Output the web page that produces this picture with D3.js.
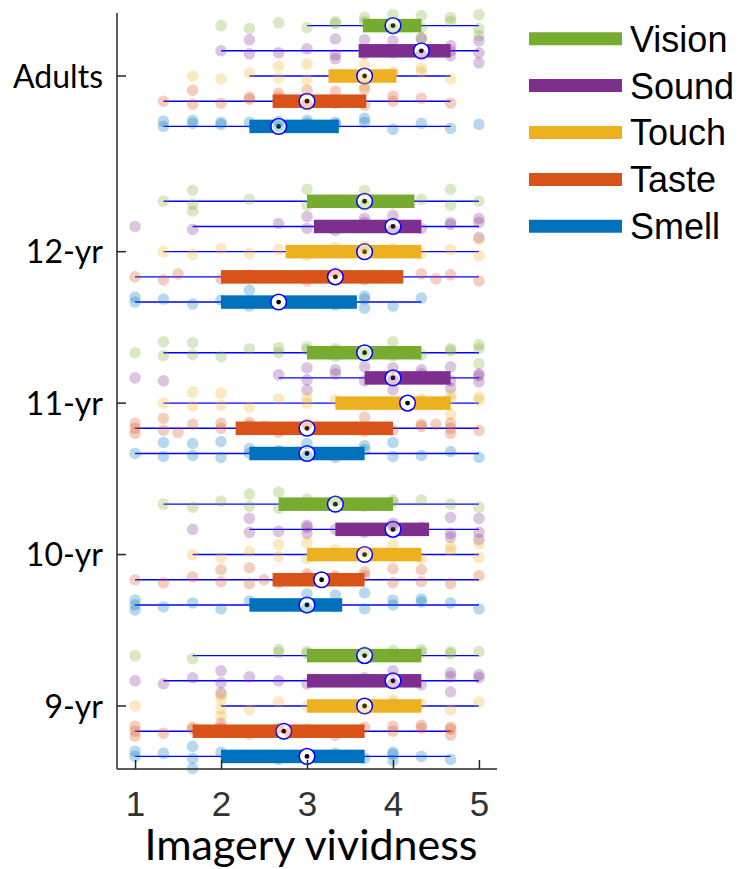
<!DOCTYPE html>
<html>
<head>
<meta charset="utf-8">
<script src="https://cdn.jsdelivr.net/npm/d3@7"></script>
<style>
body{margin:0;background:#fff;}
svg{display:block;}
</style>
</head>
<body>
<div id="chart"></div>
<script>
// data
var groups = ["Adults", "12-yr", "11-yr", "10-yr", "9-yr"];
var senses = ["Vision", "Sound", "Touch", "Taste", "Smell"];
var senseColors = ["#77ac30", "#7e2f8e", "#edb120", "#d95319", "#0072bd"];
var xTicks = [1, 2, 3, 4, 5];

// rows = groups, columns = senses
var whiskLo = [
    [3, 2, 2.33, 1.33, 1.33],
    [1.33, 1.67, 1.33, 1, 1],
    [1.33, 2.67, 1.33, 1, 1],
    [1.33, 2.33, 1.67, 1, 1],
    [1.67, 1.33, 2, 1, 1]
];
var whiskHi = [
    [5, 5, 4.67, 4.67, 4.67],
    [5, 5, 5, 5, 4.33],
    [5, 5, 5, 5, 5],
    [5, 5, 5, 5, 5],
    [5, 5, 5, 4.67, 4.67]
];
var q1 = [
    [3.65, 3.6, 3.25, 2.6, 2.33],
    [3.0, 3.08, 2.75, 2.0, 2.0],
    [3.0, 3.67, 3.33, 2.17, 2.33],
    [2.67, 3.33, 3.0, 2.6, 2.33],
    [3.0, 3.0, 3.0, 1.67, 2.0]
];
var q3 = [
    [4.33, 4.67, 4.04, 3.69, 3.37],
    [4.25, 4.33, 4.33, 4.12, 3.58],
    [4.33, 4.67, 4.67, 4.0, 3.67],
    [4.0, 4.42, 4.33, 3.67, 3.41],
    [4.33, 4.33, 4.33, 3.67, 3.67]
];
var medians = [
    [4.0, 4.33, 3.67, 3.0, 2.67],
    [3.67, 4.0, 3.67, 3.33, 2.67],
    [3.67, 4.0, 4.17, 3.0, 3.0],
    [3.33, 4.0, 3.67, 3.17, 3.0],
    [3.67, 4.0, 3.67, 2.73, 3.0]
];

// individual ratings (Vision, Sound, Touch, Taste, Smell)
var adultsPts = [
    [2, 2.33, 2.67, 3, 3.33, 3.33, 3.67, 3.67, 4, 4, 4.33, 4.33, 4.33, 4.67, 4.67, 5, 5, 5],
    [2, 2.33, 2.33, 2.67, 3, 3.33, 3.33, 3.33, 3.67, 3.67, 4, 4, 4.33, 4.33, 4.67, 4.67, 4.67, 5, 5, 5],
    [1.67, 2, 2.33, 2.67, 2.67, 3, 3, 3.33, 3.67, 3.67, 3.67, 4, 4, 4.33, 4.33, 4.67],
    [1.33, 1.67, 1.67, 2, 2.33, 2.33, 2.67, 2.67, 3, 3, 3.33, 3.33, 3.67, 3.67, 4, 4, 4.33, 4.67],
    [1.33, 1.33, 1.67, 1.67, 2, 2, 2.33, 2.67, 2.67, 3, 3, 3.33, 3.33, 3.67, 3.67, 4, 4.33, 4.67, 5]
];
var yr12Pts = [
    [1.33, 1.67, 1.67, 1.67, 2.33, 3, 3, 3.33, 3.67, 3.67, 4, 4.33, 4.67, 4.67, 5],
    [1, 1.67, 2.67, 3, 3, 3.33, 3.67, 3.67, 4, 4, 4.33, 4.67, 4.67, 5, 5, 5],
    [1.33, 1.67, 2, 2.33, 2.67, 3, 3.33, 3.67, 3.67, 4, 4.33, 4.67, 5, 5],
    [1, 1.33, 1.5, 2, 2.33, 3, 3.33, 3.5, 3.67, 4.33, 4.5, 4.67, 5],
    [1, 1, 1.33, 1.67, 2, 2.33, 2.33, 3, 3.33, 3.67, 3.67, 3.67, 4, 4.33]
];
var yr11Pts = [
    [1, 1.33, 1.33, 1.67, 1.67, 2, 2.33, 2.67, 2.67, 3, 3, 3.33, 3.33, 3.33, 3.67, 4, 4, 4.33, 4.67, 4.67, 5, 5, 5],
    [1, 1.33, 2.67, 3, 3, 3, 3.33, 3.33, 3.67, 3.67, 4, 4, 4, 4.33, 4.33, 4.67, 4.67, 4.67, 5, 5, 5],
    [1.33, 1.67, 1.67, 2, 2, 2.33, 2.67, 3, 3, 3.33, 3.67, 4.33, 4.33, 4.67, 4.67, 4.67, 5, 5],
    [1, 1, 1, 1.33, 1.33, 1.5, 1.67, 2, 2, 2.33, 2.33, 2.5, 2.67, 3, 3.33, 3.67, 3.67, 4, 4.33, 4.33, 4.5, 4.67, 4.67, 4.67, 5],
    [1, 1.33, 1.33, 1.67, 1.67, 2, 2, 2.33, 2.33, 2.67, 3, 3, 3.33, 3.67, 3.67, 4, 4, 4.33, 4.67, 5]
];
var yr10Pts = [
    [1.33, 1.67, 2, 2.33, 2.33, 2.67, 2.67, 3, 3, 3.33, 3.67, 4, 4, 4.33, 4.67, 5],
    [1.67, 2.33, 2.33, 2.67, 3, 3, 3, 3.33, 3.67, 4, 4, 4.33, 4.67, 4.67, 4.67, 5, 5, 5],
    [1.67, 2, 2.33, 2.67, 2.67, 3, 3, 3.33, 3.33, 3.67, 4, 4, 4.33, 4.67, 4.67, 5, 5],
    [1, 1.33, 1.67, 2, 2, 2.33, 2.33, 2.5, 2.67, 3, 3, 3.33, 3.33, 3.67, 3.67, 4, 4, 4.33, 4.33, 4.67, 5],
    [1, 1, 1, 1.33, 1.67, 2, 2.33, 2.67, 3, 3, 3.33, 3.33, 3.67, 3.67, 4, 4, 4.33, 4.33, 4.67, 5]
];
var yr9Pts = [
    [1, 1.67, 2.67, 2.67, 3, 3, 3.67, 4, 4, 4.33, 4.33, 4.67, 4.67, 5],
    [1, 1.33, 1.67, 2, 2, 2, 2.33, 2.67, 3, 3.67, 4, 4, 4.33, 4.67, 4.67, 4.67, 5, 5],
    [1, 2, 2, 2, 2, 2.33, 2.67, 3, 3.67, 4, 4, 4.33, 4.67, 5],
    [1, 1, 1, 1.33, 1.67, 1.67, 2, 2, 2.33, 2.67, 2.8, 3, 3.33, 3.67, 4, 4, 4.33, 4.33, 4.67, 4.67, 4.67],
    [1, 1, 1.33, 1.67, 1.67, 1.67, 2, 2.33, 2.67, 3.33, 3.67, 4, 4, 4, 4.33, 4.67]
];
var groupPts = [adultsPts, yr12Pts, yr11Pts, yr10Pts, yr9Pts];

var width = 739, height = 869;
var axisColor = "#262626";
var whiskColor = "#0000ff";

var svg = d3.select('#chart')
    .append('svg')
    .attr('width', width)
    .attr('height', height);

var x = d3.scaleLinear().domain([0.79, 5.21]).range([117, 497]);
var y = d3.scaleLinear().domain([8.584, 13.576]).range([769, 13]);

// children sit at their age, adults get a slightly larger gap
var adultLevel = 13.16;
function groupLevel(gi) {
    return gi === 0 ? adultLevel : 13 - gi;
}
var rowStep = 25.2;
function rowY(gi, si) {
    return y(groupLevel(gi)) + (si - 2) * rowStep;
}

// build a flat list of boxes
var boxes = [];
groups.forEach(function(g, gi) {
    senses.forEach(function(s, si) {
        boxes.push({
            gi: gi, si: si,
            lo: whiskLo[gi][si], hi: whiskHi[gi][si],
            q1: q1[gi][si], q3: q3[gi][si], med: medians[gi][si]
        });
    });
});

var plot = svg.append('g').attr('class', 'boxes');

plot.selectAll('line.whisk')
    .data(boxes)
    .enter().append('line')
    .attr('class', 'whisk')
    .attr('x1', function(d) { return x(d.lo); })
    .attr('x2', function(d) { return x(d.hi); })
    .attr('y1', function(d) { return rowY(d.gi, d.si); })
    .attr('y2', function(d) { return rowY(d.gi, d.si); })
    .attr('stroke', whiskColor)
    .attr('stroke-width', 1.4);

var boxH = 13.5;
plot.selectAll('rect.box')
    .data(boxes)
    .enter().append('rect')
    .attr('class', 'box')
    .attr('x', function(d) { return x(d.q1); })
    .attr('width', function(d) { return x(d.q3) - x(d.q1); })
    .attr('y', function(d) { return rowY(d.gi, d.si) - boxH / 2; })
    .attr('height', boxH)
    .attr('fill', function(d) { return senseColors[d.si]; });

plot.selectAll('circle.med')
    .data(boxes)
    .enter().append('circle')
    .attr('class', 'med')
    .attr('cx', function(d) { return x(d.med); })
    .attr('cy', function(d) { return rowY(d.gi, d.si); })
    .attr('r', 7.8)
    .attr('fill', '#fff')
    .attr('stroke', whiskColor)
    .attr('stroke-width', 1.5);

plot.selectAll('circle.meddot')
    .data(boxes)
    .enter().append('circle')
    .attr('class', 'meddot')
    .attr('cx', function(d) { return x(d.med); })
    .attr('cy', function(d) { return rowY(d.gi, d.si); })
    .attr('r', 2.4)
    .attr('fill', '#000');

// scatter of individual ratings on top, stacked where values repeat
var stackOff = [0, -8, 8, -4, 4, -12, 12];
var smallOff = [0, 3, -3, 2, -2, 4, -4];
var pts = [];
groupPts.forEach(function(rows, gi) {
    rows.forEach(function(vals, si) {
        var seen = {};
        vals.forEach(function(v, i) {
            var k = seen[v] || 0;
            seen[v] = k + 1;
            pts.push({gi: gi, si: si, v: v, off: stackOff[k % stackOff.length] + smallOff[i % smallOff.length]});
        });
    });
});

svg.append('g').attr('class', 'pts')
    .selectAll('circle')
    .data(pts)
    .enter().append('circle')
    .attr('cx', function(d) { return x(d.v); })
    .attr('cy', function(d) { return rowY(d.gi, d.si) + d.off; })
    .attr('r', 5.8)
    .attr('fill', function(d) { return senseColors[d.si]; })
    .attr('fill-opacity', 0.28);

// axes
var xAxis = d3.axisBottom(x).tickValues(xTicks).tickSize(-9).tickPadding(22).tickFormat(d3.format('d'));
var gx = svg.append('g')
    .attr('transform', 'translate(0,769)')
    .call(xAxis);
gx.select('.domain').attr('stroke', axisColor).attr('stroke-width', 1.5).attr('d', 'M117,0H497');
gx.selectAll('.tick line').attr('stroke', axisColor).attr('stroke-width', 1.5);
gx.selectAll('.tick text')
    .attr('font-family', 'Liberation Sans, Arial, sans-serif')
    .attr('font-size', 35)
    .attr('fill', '#333')
    .attr('dy', '0.71em');

var gy = svg.append('g').attr('transform', 'translate(117,0)');
gy.append('line')
    .attr('x1', 0).attr('x2', 0)
    .attr('y1', y.range()[1]).attr('y2', y.range()[0])
    .attr('stroke', axisColor).attr('stroke-width', 1.5);
groups.forEach(function(g, gi) {
    var yy = y(groupLevel(gi));
    gy.append('line')
        .attr('x1', 0).attr('x2', 9)
        .attr('y1', yy).attr('y2', yy)
        .attr('stroke', axisColor).attr('stroke-width', 1.5);
    gy.append('text')
        .attr('x', -14)
        .attr('y', yy)
        .attr('dy', '0.36em')
        .attr('text-anchor', 'end')
        .attr('font-family', 'Lato, sans-serif')
        .attr('font-size', 32)
        .attr('fill', '#000')
        .text(g);
});

svg.append('text')
    .attr('x', 311)
    .attr('y', 860)
    .attr('text-anchor', 'middle')
    .attr('font-family', 'Lato, sans-serif')
    .attr('font-size', 43)
    .attr('fill', '#000')
    .text('Imagery vividness');

// legend
var legend = svg.append('g').attr('class', 'legend');
senses.forEach(function(s, si) {
    var ly = 38.7 + si * 46.9;
    legend.append('line')
        .attr('x1', 529).attr('x2', 622)
        .attr('y1', ly).attr('y2', ly)
        .attr('stroke', senseColors[si])
        .attr('stroke-width', 13);
    legend.append('text')
        .attr('x', 630)
        .attr('y', ly)
        .attr('dy', '0.36em')
        .attr('font-family', 'Liberation Sans, Arial, sans-serif')
        .attr('font-size', 36)
        .attr('fill', '#000')
        .text(s);
});
</script>
</body>
</html>
